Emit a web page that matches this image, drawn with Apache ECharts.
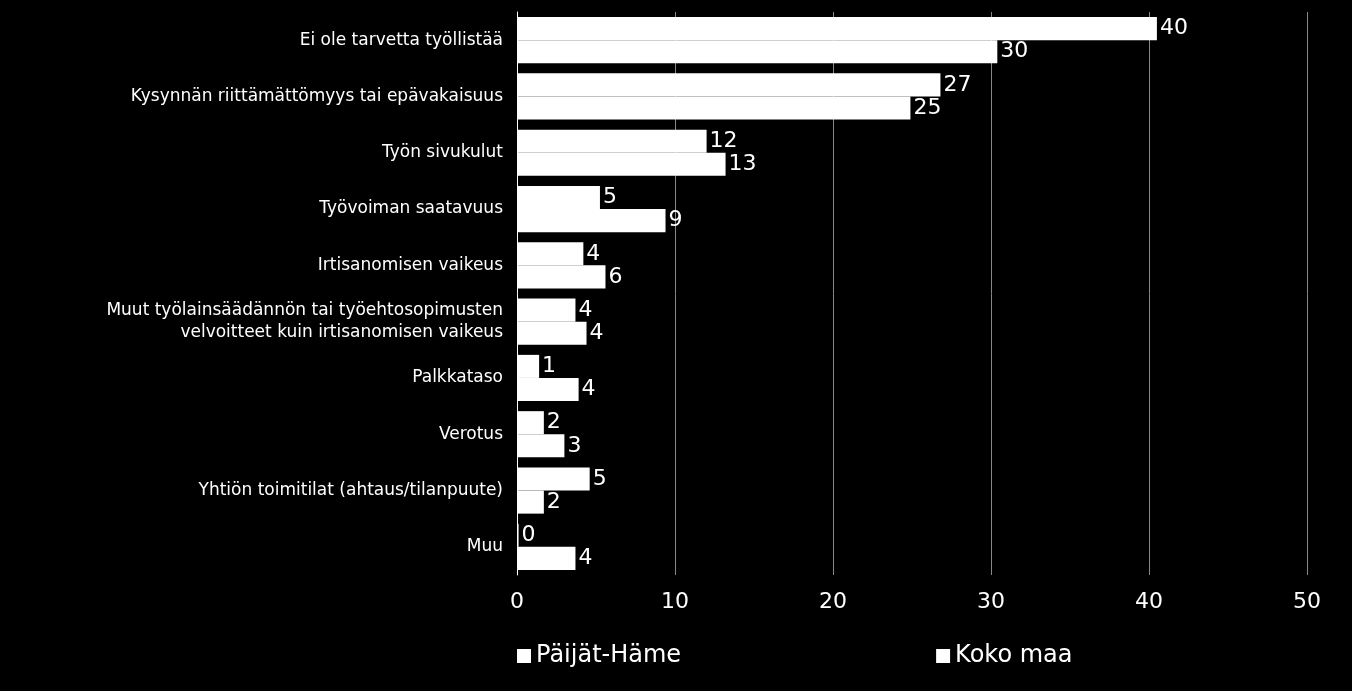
<!DOCTYPE html>
<html>
<head>
<meta charset="utf-8">
<script src="https://cdn.jsdelivr.net/npm/echarts@6/dist/echarts.min.js"></script>
<style>
  html, body { margin: 0; padding: 0; background: #000; }
  #main { width: 1352px; height: 691px; }
</style>
</head>
<body>
<div id="main"></div>
<script>
var categories = [
  'Ei ole tarvetta työllistää',
  'Kysynnän riittämättömyys tai epävakaisuus',
  'Työn sivukulut',
  'Työvoiman saatavuus',
  'Irtisanomisen vaikeus',
  'Muut työlainsäädännön tai työehtosopimusten\nvelvoitteet kuin irtisanomisen vaikeus',
  'Palkkataso',
  'Verotus',
  'Yhtiön toimitilat (ahtaus/tilanpuute)',
  'Muu'
]
var seriesNames = ['Päijät-Häme', 'Koko maa']
var paijatHame = [40.5, 26.8, 12.0, 5.25, 4.2, 3.7, 1.4, 1.7, 4.6, 0.1]
var kokoMaa = [30.4, 24.9, 13.2, 9.4, 5.6, 4.4, 3.9, 3.0, 1.7, 3.7]
var paijatLabels = [40, 27, 12, 5, 4, 4, 1, 2, 5, 0]
var kokoLabels = [30, 25, 13, 9, 6, 4, 4, 3, 2, 4]

var chart = echarts.init(document.getElementById('main'))

function makeSeries(name, data, labels) {
  return {
    name: name,
    type: 'bar',
    data: data,
    barGap: '0%',
    barCategoryGap: '18%',
    itemStyle: { color: '#fff' },
    label: {
      show: true,
      position: 'right',
      distance: 3,
      color: '#fff',
      fontSize: 22,
      fontFamily: 'DejaVu Sans',
      formatter: function (p) { return labels[p.dataIndex] }
    }
  }
}

var option = {
  backgroundColor: '#000',
  animation: false,
  grid: { left: 517, right: 45, top: 12, bottom: 116, containLabel: false },
  legend: {
    data: seriesNames,
    left: 512,
    bottom: 18,
    itemGap: 255,
    icon: 'rect',
    itemWidth: 14,
    itemHeight: 14,
    textStyle: { color: '#fff', fontSize: 24, fontFamily: 'DejaVu Sans' }
  },
  xAxis: {
    type: 'value',
    min: 0,
    max: 50,
    interval: 10,
    axisLine: { show: false },
    axisTick: { show: false },
    splitLine: { show: true, lineStyle: { color: '#888', width: 1 } },
    axisLabel: { color: '#fff', fontSize: 22, margin: 16, fontFamily: 'DejaVu Sans' }
  },
  yAxis: {
    type: 'category',
    inverse: true,
    data: categories,
    axisLine: { show: true, lineStyle: { color: '#fff', width: 1 } },
    axisTick: { show: false },
    axisLabel: {
      color: '#fff',
      fontSize: 17,
      margin: 14,
      align: 'right',
      lineHeight: 22,
      fontFamily: 'DejaVu Sans'
    }
  },
  series: [
    makeSeries(seriesNames[0], paijatHame, paijatLabels),
    makeSeries(seriesNames[1], kokoMaa, kokoLabels)
  ]
}

chart.setOption(option)
</script>
</body>
</html>
